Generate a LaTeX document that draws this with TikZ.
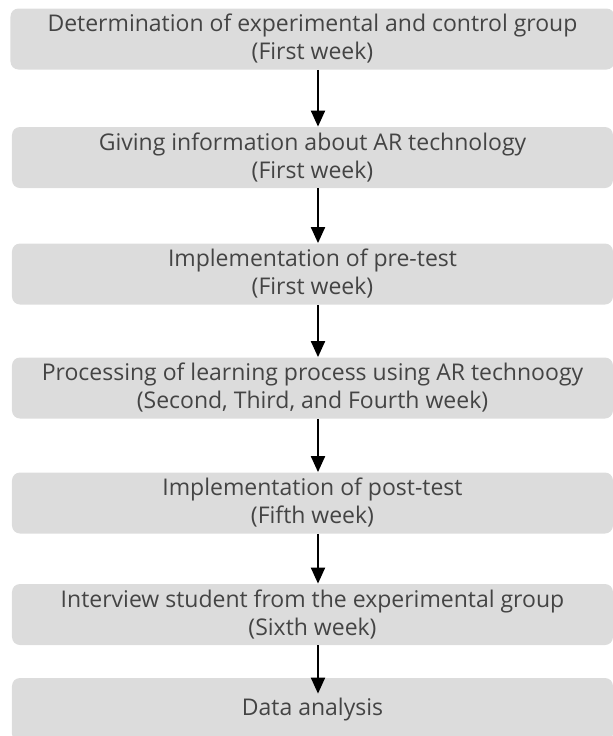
\documentclass[tikz,border=0pt]{standalone}
\usepackage{fontspec}
\setmainfont{Open Sans}
\usepackage{xcolor}
\usetikzlibrary{arrows.meta,positioning}
\definecolor{boxgray}{HTML}{DCDCDC}
\definecolor{textgray}{HTML}{444444}

\begin{document}
\begin{tikzpicture}[x=0.5pt, y=-0.5pt,
    stage/.style={rectangle, rounded corners=4pt, fill=boxgray, text=textgray,
        minimum width=300.5pt, minimum height=30.5pt, inner sep=0pt, align=center,
        font=\fontsize{11.5}{14}\selectfont},
    flow/.style={-{Triangle[length=8pt,width=7pt]}, line width=1pt}]
    \useasboundingbox (0,0) rectangle (613,736);

    % stages, top to bottom
    \node [stage, minimum width=302pt] (determ) at (312.5,39) {Determination of experimental and control group\\(First week)};
    \node [stage] (info) at (312.5,157.5) {Giving information about AR technology\\(First week)};
    \node [stage] (pretest) at (312.5,274) {Implementation of pre-test\\(First week)};
    \node [stage] (process) at (312.5,388) {Processing of learning process using AR technoogy\\(Second, Third, and Fourth week)};
    \node [stage] (posttest) at (312.5,503) {Implementation of post-test\\(Fifth week)};
    \node [stage] (interview) at (312.5,614.5) {Interview student from the experimental group\\(Sixth week)};
    \node [stage, minimum height=32pt] (analysis) at (312.5,710) {Data analysis};

    % arrows between stages
    \draw [flow] ([xshift=2.75pt]determ.south) -- ([xshift=2.75pt]info.north);
    \draw [flow] ([xshift=2.75pt]info.south) -- ([xshift=2.75pt]pretest.north);
    \draw [flow] ([xshift=2.75pt]pretest.south) -- ([xshift=2.75pt]process.north);
    \draw [flow] ([xshift=2.75pt]process.south) -- ([xshift=2.75pt]posttest.north);
    \draw [flow] ([xshift=2.75pt]posttest.south) -- ([xshift=2.75pt]interview.north);
    \draw [flow] ([xshift=2.75pt]interview.south) -- ([xshift=2.75pt,yshift=-8pt]analysis.north);
\end{tikzpicture}
\end{document}
